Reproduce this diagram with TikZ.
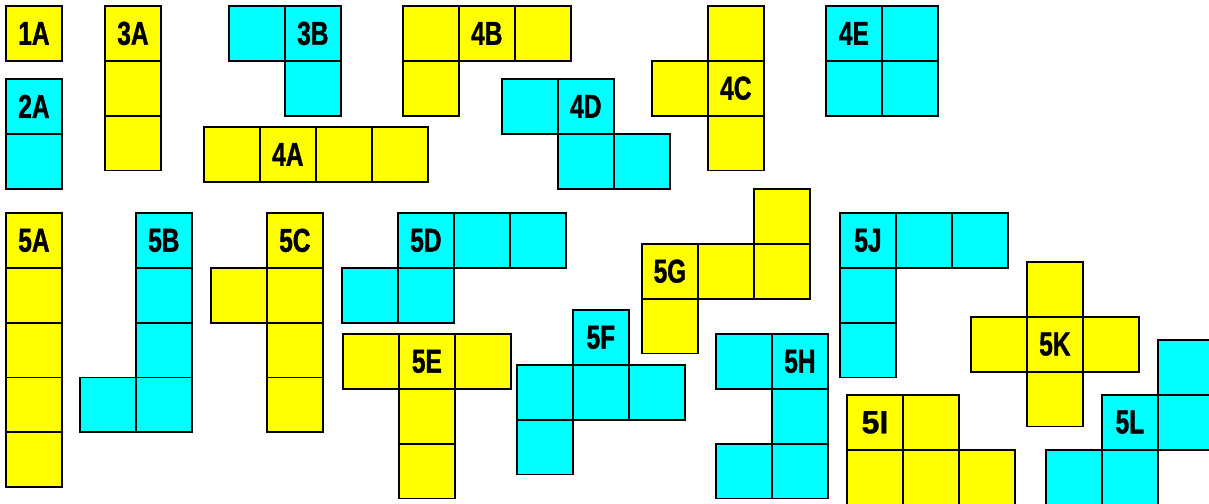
\documentclass[tikz,border=0pt]{standalone}
\usepackage{fontspec}
\newfontfamily\labfont[FakeStretch=0.74,FakeBold=1.2]{Liberation Sans}
\newfontfamily\labwide[FakeBold=1.2]{Liberation Sans}
\definecolor{pyellow}{HTML}{FFFF00}
\definecolor{pcyan}{HTML}{00FFFF}
\tikzset{
  cellbox/.style={draw=black, line width=1.8pt, minimum width=55.9pt, minimum height=54.8pt, inner sep=0pt, anchor=north west, outer sep=0pt},
  lab/.style={inner sep=0pt, font=\labfont\bfseries\fontsize{33}{33}\selectfont},
  labw/.style={inner sep=0pt, font=\labwide\bfseries\fontsize{32}{32}\selectfont},
}
\def\sx{55.9}
\def\sy{54.8}
% name, ox, oy, colour, cells i/j, label cell i, label cell j
\newcommand\piece[7]{%
  \foreach \i/\j [count=\k] in {#5} {
    \node[cellbox, fill=#4] (#1-\k) at ({#2+\i*\sx},{#3+\j*\sy}) {};
  }
  \node[lab] (#1-label) at ({#2+(#6+0.5)*\sx},{#3+(#7+0.5)*\sy}) {#1};
}
\begin{document}
\begin{tikzpicture}[x=1pt,y=-1pt]
\clip (0,0) rectangle (1209,503);
\fill[white] (0,0) rectangle (1209,503);
\piece{1A}{6}{6}{pyellow}{0/0}{0}{0}
\piece{2A}{6}{79}{pcyan}{0/0,0/1}{0}{0}
\piece{3A}{105}{6}{pyellow}{0/0,0/1,0/2}{0}{0}
\piece{3B}{229}{6}{pcyan}{0/0,1/0,1/1}{1}{0}
\piece{4A}{204}{127}{pyellow}{0/0,1/0,2/0,3/0}{1}{0}
\piece{4B}{403}{6}{pyellow}{0/0,1/0,2/0,0/1}{1}{0}
\piece{4C}{652}{6}{pyellow}{1/0,0/1,1/1,1/2}{1}{1}
\piece{4D}{502}{79}{pcyan}{0/0,1/0,1/1,2/1}{1}{0}
\piece{4E}{826}{6}{pcyan}{0/0,1/0,0/1,1/1}{0}{0}
\piece{5A}{6}{213}{pyellow}{0/0,0/1,0/2,0/3,0/4}{0}{0}
\piece{5B}{80}{213}{pcyan}{1/0,1/1,1/2,0/3,1/3}{1}{0}
\piece{5C}{211}{213}{pyellow}{1/0,0/1,1/1,1/2,1/3}{1}{0}
\piece{5D}{342}{213}{pcyan}{1/0,2/0,3/0,0/1,1/1}{1}{0}
\piece{5E}{343}{334}{pyellow}{0/0,1/0,2/0,1/1,1/2}{1}{0}
\piece{5F}{517}{310}{pcyan}{1/0,0/1,1/1,2/1,0/2}{1}{0}
\piece{5G}{642}{189}{pyellow}{2/0,0/1,1/1,2/1,0/2}{0}{1}
\piece{5H}{716}{334}{pcyan}{0/0,1/0,1/1,0/2,1/2}{1}{0}
\foreach \i/\j [count=\k] in {0/0,1/0,0/1,1/1,2/1} {
  \node[cellbox, fill=pyellow] (5I-\k) at ({847+\i*\sx},{395+\j*\sy}) {};
}
\node[labw] (5I-label) at ({847+0.5*\sx},{395+0.5*\sy}) {5I};
\piece{5J}{840}{213}{pcyan}{0/0,1/0,2/0,0/1,0/2}{0}{0}
\piece{5K}{971}{262}{pyellow}{1/0,0/1,1/1,2/1,1/2}{1}{1}
\piece{5L}{1046}{340}{pcyan}{2/0,1/1,2/1,0/2,1/2}{1}{1}
\end{tikzpicture}
\end{document}
